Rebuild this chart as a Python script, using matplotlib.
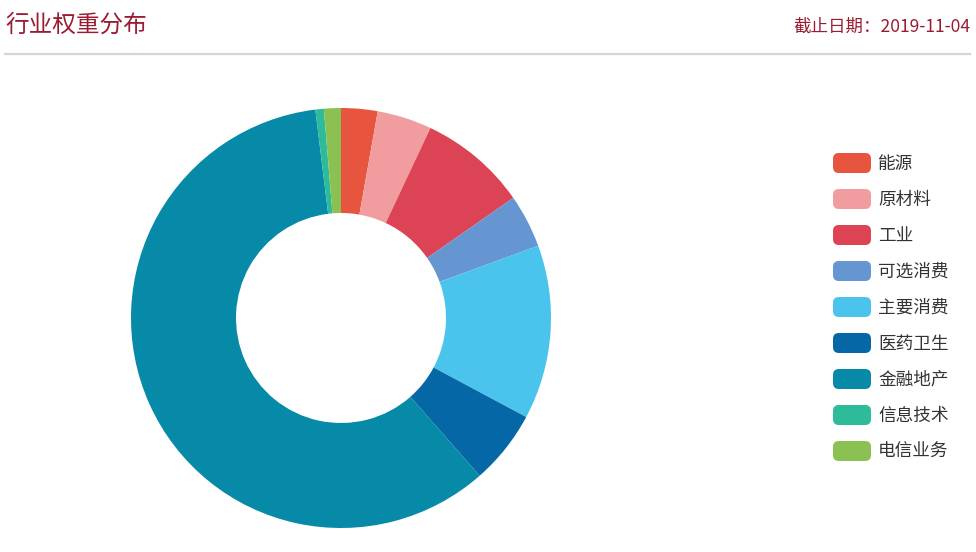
import matplotlib
matplotlib.use("Agg")
import matplotlib.pyplot as plt
from matplotlib.patches import FancyBboxPatch
from matplotlib.lines import Line2D

plt.rcParams['font.family'] = ['Noto Sans CJK SC', 'DejaVu Sans']

categories = ["能源", "原材料", "工业", "可选消费", "主要消费", "医药卫生", "金融地产", "信息技术", "电信业务"]
weights = [2.8, 4.2, 8.3, 4.1, 13.4, 5.7, 59.5, 0.65, 1.3]
colors = ["#e8553e", "#f19c9f", "#dc4455", "#6596d2", "#4bc4ed", "#0567a5", "#0789a8", "#2dbb9a", "#8bc152"]
title = "行业权重分布"
date_label = "截止日期：2019-11-04"

W, H = 976, 552
fig = plt.figure(figsize=(W / 100, H / 100), dpi=100)

# pie axes: centre (341, 318) px, outer radius 210 px
cx, cy, r = 341, 318, 210
ax = fig.add_axes([(cx - r) / W, (H - cy - r) / H, 2 * r / W, 2 * r / H])
ax.pie(weights, colors=colors, startangle=90, counterclock=False, radius=1.0,
       wedgeprops=dict(width=0.5, edgecolor='none', linewidth=0))
ax.set_xlim(-1, 1)
ax.set_ylim(-1, 1)
ax.set_aspect('equal')
ax.axis('off')

# header
title_color = "#9b1c32"
fig.text(5 / W, 1 - 25 / H, title, fontsize=17, color=title_color, ha='left', va='center')
fig.text(970 / W, 1 - 27 / H, date_label, fontsize=12.6, color=title_color, ha='right', va='center')
fig.add_artist(Line2D([5 / W, 970 / W], [1 - 54 / H, 1 - 54 / H], color="#d6d6d6", linewidth=1.6,
                      transform=fig.transFigure))

# legend
x0, w, h = 833, 38, 20
y_first, step = 163, 36
for i, (lab, col) in enumerate(zip(categories, colors)):
    yc = y_first + i * step
    patch = FancyBboxPatch(((x0) / W, 1 - (yc + h / 2) / H), w / W, h / H,
                           boxstyle="round,pad=0,rounding_size=0.006",
                           transform=fig.transFigure, facecolor=col, edgecolor='none',
                           mutation_aspect=W / H)
    fig.add_artist(patch)
    fig.text(878 / W, 1 - (yc + 1) / H, lab, fontsize=12.7, color="#333333", ha='left', va='center')

fig.savefig("out.png", dpi=100, facecolor='white')
